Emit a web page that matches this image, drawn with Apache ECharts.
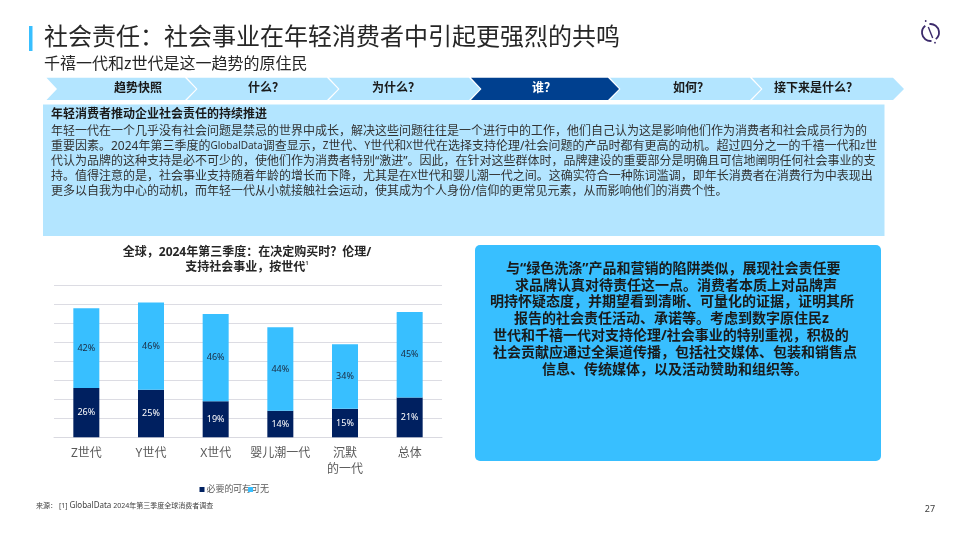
<!DOCTYPE html>
<html>
<head>
<meta charset="utf-8">
<style>
html, body { margin: 0; padding: 0; background: #fff; }
#main { width: 960px; height: 540px; }
</style>
<script src="https://cdn.jsdelivr.net/npm/echarts@6/dist/echarts.min.js"></script>
</head>
<body>
<div id="main"></div>
<script>
var categories = ['Z世代', 'Y世代', 'X世代', '婴儿潮一代', '沉默\n的一代', '总体'];
var essential = [26, 25, 19, 14, 15, 21];
var niceToHave = [42, 46, 46, 44, 34, 45];

var navSteps = ['趋势快照', '什么\uFF1F', '为什么\uFF1F', '谁\uFF1F', '如何\uFF1F', '接下来是什么\uFF1F'];
var navCenters = [138, 266, 396, 544, 691, 816];
var bodyLines = [
    '年轻一代在一个几乎没有社会问题是禁忌的世界中成长\uFF0C解决这些问题往往是一个进行中的工作\uFF0C他们自己认为这是影响他们作为消费者和社会成员行为的',
    '重要因素。2024年第三季度的GlobalData调查显示\uFF0CZ世代、Y世代和X世代在选择支持伦理/社会问题的产品时都有更高的动机。超过四分之一的千禧一代和z世',
    '代认为品牌的这种支持是必不可少的\uFF0C使他们作为消费者特别“激进”。因此\uFF0C在针对这些群体时\uFF0C品牌建设的重要部分是明确且可信地阐明任何社会事业的支',
    '持。值得注意的是\uFF0C社会事业支持随着年龄的增长而下降\uFF0C尤其是在X世代和婴儿潮一代之间。这确实符合一种陈词滥调\uFF0C即年长消费者在消费行为中表现出',
    '更多以自我为中心的动机\uFF0C而年轻一代从小就接触社会运动\uFF0C使其成为个人身份/信仰的更常见元素\uFF0C从而影响他们的消费个性。'
];
var calloutLines = [
    '与“绿色洗涤”产品和营销的陷阱类似\uFF0C展现社会责任要',
    '求品牌认真对待责任这一点。消费者本质上对品牌声',
    '明持怀疑态度\uFF0C并期望看到清晰、可量化的证据\uFF0C证明其所',
    '报告的社会责任活动、承诺等。考虑到数字原住民z',
    '世代和千禧一代对支持伦理/社会事业的特别重视\uFF0C积极的',
    '社会贡献应通过全渠道传播\uFF0C包括社交媒体、包装和销售点',
    '信息、传统媒体\uFF0C以及活动赞助和组织等。'
];
var calloutLeft = [506, 515, 490, 514, 493, 493, 542];
var calloutTop = [269, 286, 302, 319, 336, 353, 370];

var fontName = '"Noto Sans", "Noto Sans CJK SC", sans-serif';
var skyBlue = '#38bfff';
var paleBlue = '#b3e5ff';
var navy = '#002060';
var logoColor = '#3b2a6b';

function label(x, y, text, size, color, weight, align) {
    return {
        type: 'text',
        x: x,
        y: y,
        z: 10,
        style: {
            text: text,
            fill: color,
            font: (weight || 'normal') + ' ' + size + 'px ' + fontName,
            align: align || 'left',
            verticalAlign: 'middle'
        }
    };
}

// latin words run at a different size from the chinese in the source slide
function mixedLabel(x, y, text, size, latinSize, color) {
    var el = label(x, y, text.replace(/[A-Za-z]+/g, '{l|$&}'), size, color);
    el.style.rich = { l: { fontFamily: fontName, fontSize: latinSize, fill: color } };
    return el;
}

// header band of arrows
function navShapes() {
    var res = [];
    var starts = [46.5, 187, 329, 471, 610, 752];
    var ends = [185, 327, 469, 608, 750, 893];
    navSteps.forEach(function (step, i) {
        var x0 = starts[i], x1 = ends[i];
        var active = i === 3;
        res.push({
            type: 'polygon',
            z: 1,
            shape: {
                points: [[x0, 77.7], [x1, 77.7], [x1 + 11, 89], [x1, 100], [x0, 100], [x0 + 10.5, 89]]
            },
            style: { fill: active ? '#00408f' : paleBlue }
        });
        res.push(label(navCenters[i], 88.5, step, 12, active ? '#ffffff' : '#1a1a1a', 'bold', 'center'));
    });
    return res;
}

var shapes = [
    { type: 'rect', shape: { x: 29, y: 26, width: 3.5, height: 25 }, style: { fill: skyBlue } },
    label(44, 38, '社会责任\uFF1A社会事业在年轻消费者中引起更强烈的共鸣', 24, '#262626'),
    label(44, 64, '千禧一代和z世代是这一趋势的原住民', 16, '#262626'),
    // logo
    { type: 'arc', shape: { cx: 930.5, cy: 32.5, r: 8.5, startAngle: -1.7, endAngle: 0.9 }, style: { stroke: logoColor, lineWidth: 1.8, fill: null } },
    { type: 'arc', shape: { cx: 930.5, cy: 32.5, r: 8.5, startAngle: 1.45, endAngle: 4.05 }, style: { stroke: logoColor, lineWidth: 1.8, fill: null } },
    { type: 'line', shape: { x1: 928.3, y1: 27, x2: 932.7, y2: 38 }, style: { stroke: logoColor, lineWidth: 1.4 } },
    { type: 'circle', shape: { cx: 925.7, cy: 21, r: 0.9 }, style: { fill: logoColor } },
    { type: 'circle', shape: { cx: 935, cy: 42.7, r: 0.9 }, style: { fill: logoColor } },
    // text panels
    { type: 'rect', z: 1, shape: { x: 43, y: 104.5, width: 841.5, height: 131.5 }, style: { fill: paleBlue } },
    label(51, 115, '年轻消费者推动企业社会责任的持续推进', 12, '#1a1a1a', 'bold'),
    { type: 'rect', z: 1, shape: { x: 475, y: 245, width: 406, height: 216, r: 5 }, style: { fill: skyBlue } },
    label(36, 506, '来源\uFF1A', 7, '#404040'),
    mixedLabel(59, 506, '[1] GlobalData 2024年第三季度全球消费者调查', 7, 8, '#404040'),
    label(930, 509, '27', 9, '#404040', 'normal', 'center'),
    // second legend swatch sits on top of the text, as in the source slide
    { type: 'rect', z: 11, shape: { x: 248, y: 487, width: 5, height: 5 }, style: { fill: skyBlue } }
];
shapes = shapes.concat(navShapes());
bodyLines.forEach(function (line, i) {
    shapes.push(mixedLabel(51, 131.5 + i * 14.9, line, 12, 10, '#333333'));
});
calloutLines.forEach(function (line, i) {
    shapes.push(label(calloutLeft[i], calloutTop[i], line, 14, '#1a1a1a', 'bold'));
});

var chart = echarts.init(document.getElementById('main'), null, { renderer: 'canvas' });

chart.setOption({
    animation: false,
    backgroundColor: '#ffffff',
    textStyle: { fontFamily: fontName },
    title: {
        text: '全球\uFF0C2024年第三季度\uFF1A在决定购买时\uFF1F伦理/\n支持社会事业\uFF0C按世代{sup|1}',
        left: 242,
        top: 240,
        textAlign: 'center',
        textStyle: {
            fontFamily: fontName,
            fontSize: 12,
            fontWeight: 'bold',
            color: '#262626',
            lineHeight: 15,
            rich: {
                sup: { fontSize: 6, color: '#595959', verticalAlign: 'top', lineHeight: 15 }
            }
        }
    },
    legend: [
        {
            data: ['必要的'],
            left: 199.5,
            top: 485,
            padding: 0,
            icon: 'rect',
            itemWidth: 5,
            itemHeight: 5,
            itemGap: 0,
            selectedMode: false,
            textStyle: { fontFamily: fontName, fontSize: 9, color: '#595959', padding: [0, 0, 0, -3] }
        },
        {
            data: [{ name: '可有可无', icon: 'none' }],
            left: 223,
            top: 485,
            padding: 0,
            itemWidth: 5,
            itemHeight: 5,
            selectedMode: false,
            textStyle: { fontFamily: fontName, fontSize: 9, color: '#595959' }
        }
    ],
    grid: { left: 54, right: 518, top: 285.5, bottom: 102.7 },
    xAxis: {
        type: 'category',
        data: categories,
        axisLine: { lineStyle: { color: '#d9d9e0', width: 1 } },
        axisTick: { show: false },
        axisLabel: { color: '#595959', fontSize: 12, lineHeight: 16, margin: 8, interval: 0, fontFamily: fontName }
    },
    yAxis: {
        type: 'value',
        min: 0,
        max: 80,
        interval: 10,
        axisLine: { show: false },
        axisTick: { show: false },
        axisLabel: { show: false },
        splitLine: { lineStyle: { color: '#dcdce3', width: 1 } }
    },
    series: [
        {
            name: '必要的',
            type: 'bar',
            stack: 'total',
            barWidth: 26,
            itemStyle: { color: navy },
            label: { show: true, position: 'inside', formatter: '{c}%', color: '#ffffff', fontSize: 9, fontFamily: fontName },
            data: essential
        },
        {
            name: '可有可无',
            type: 'bar',
            stack: 'total',
            barWidth: 26,
            itemStyle: { color: skyBlue },
            label: { show: true, position: 'inside', formatter: '{c}%', color: '#1a2a40', fontSize: 9, fontFamily: fontName },
            data: niceToHave
        }
    ],
    graphic: shapes
});
</script>
</body>
</html>
